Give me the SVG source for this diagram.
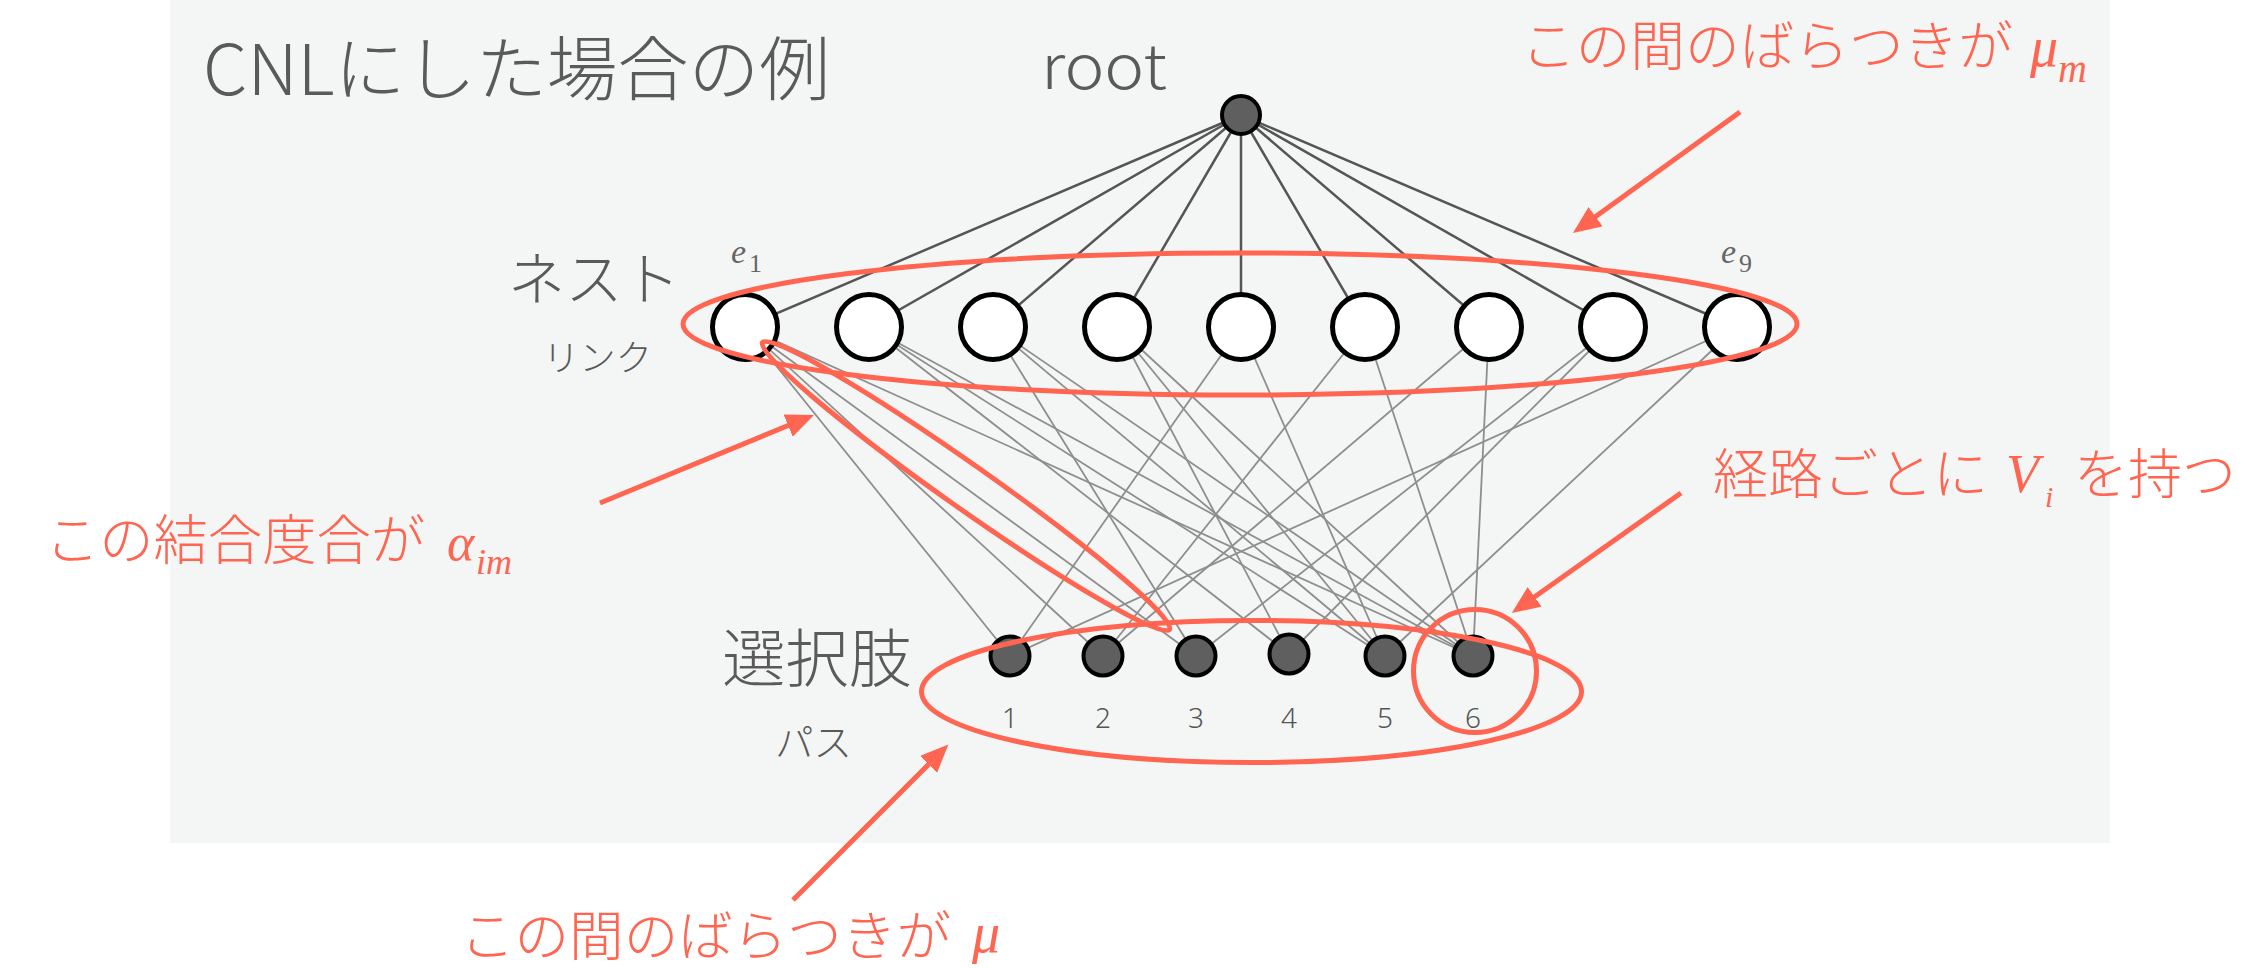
<svg xmlns="http://www.w3.org/2000/svg" width="2249" height="968" viewBox="0 0 2249 968">
<defs>
<style>
.bg{fill:#F4F6F5}
.rl{stroke:#555;stroke-width:2.5;fill:none}
.cl{stroke:#8e8e8e;stroke-width:1.8;fill:none}
.nest{fill:#fff;stroke:#000;stroke-width:5}
.dark{fill:#5f5f5f;stroke:#000;stroke-width:4}
.red{fill:none;stroke:#FF6550;stroke-width:5}
.arr{fill:none;stroke:#FF6550;stroke-width:5;marker-end:url(#ah)}
.g{fill:#5a5a5a;font-family:"Noto Sans CJK JP","Noto Sans",sans-serif;font-weight:300}
.r{fill:#FF6550;font-family:"Noto Sans CJK JP","Noto Sans",sans-serif;font-weight:300}
.mi{font-family:"Liberation Serif","DejaVu Serif",serif;font-style:italic;font-weight:normal}
.rm{fill:#FF6550;font-family:"Liberation Serif","DejaVu Serif",serif;font-style:italic}
.gm{fill:#666;font-family:"Liberation Serif","DejaVu Serif",serif}
.num{fill:#555;font-family:"Noto Sans","Noto Sans CJK JP",sans-serif;font-weight:300;font-size:28px;text-anchor:middle}
</style>
<marker id="ah" markerUnits="userSpaceOnUse" markerWidth="30" markerHeight="26" refX="2" refY="12" orient="auto">
<path d="M0,0 L28,12 L0,24 z" fill="#FF6550"/>
</marker>
</defs>
<rect class="bg" x="170" y="0" width="1940" height="843"/>
<g id="connectors">
<g id="root-links">
<line class="rl" x1="1241" y1="115" x2="745" y2="327"/>
<line class="rl" x1="1241" y1="115" x2="869" y2="327"/>
<line class="rl" x1="1241" y1="115" x2="993" y2="327"/>
<line class="rl" x1="1241" y1="115" x2="1117" y2="327"/>
<line class="rl" x1="1241" y1="115" x2="1241" y2="327"/>
<line class="rl" x1="1241" y1="115" x2="1365" y2="327"/>
<line class="rl" x1="1241" y1="115" x2="1489" y2="327"/>
<line class="rl" x1="1241" y1="115" x2="1613" y2="327"/>
<line class="rl" x1="1241" y1="115" x2="1737" y2="327"/>
</g>
<g id="path-links">
<line class="cl" x1="745" y1="327" x2="1010" y2="656"/>
<line class="cl" x1="745" y1="327" x2="1103" y2="656"/>
<line class="cl" x1="745" y1="327" x2="1196" y2="656"/>
<line class="cl" x1="745" y1="327" x2="1473" y2="656"/>
<line class="cl" x1="869" y1="327" x2="1289" y2="654"/>
<line class="cl" x1="869" y1="327" x2="1385" y2="656"/>
<line class="cl" x1="869" y1="327" x2="1473" y2="656"/>
<line class="cl" x1="993" y1="327" x2="1196" y2="656"/>
<line class="cl" x1="993" y1="327" x2="1385" y2="656"/>
<line class="cl" x1="993" y1="327" x2="1473" y2="656"/>
<line class="cl" x1="1117" y1="327" x2="1289" y2="654"/>
<line class="cl" x1="1117" y1="327" x2="1385" y2="656"/>
<line class="cl" x1="1117" y1="327" x2="1473" y2="656"/>
<line class="cl" x1="1241" y1="327" x2="1010" y2="656"/>
<line class="cl" x1="1241" y1="327" x2="1385" y2="656"/>
<line class="cl" x1="1365" y1="327" x2="1103" y2="656"/>
<line class="cl" x1="1365" y1="327" x2="1473" y2="656"/>
<line class="cl" x1="1489" y1="327" x2="1103" y2="656"/>
<line class="cl" x1="1489" y1="327" x2="1473" y2="656"/>
<line class="cl" x1="1613" y1="327" x2="1196" y2="656"/>
<line class="cl" x1="1613" y1="327" x2="1289" y2="654"/>
<line class="cl" x1="1737" y1="327" x2="1010" y2="656"/>
<line class="cl" x1="1737" y1="327" x2="1385" y2="656"/>
</g>
</g>
<g id="root"><circle class="dark" cx="1241" cy="115" r="19"/></g>
<g id="nest-1"><circle class="nest" cx="745" cy="327" r="32.5"/></g>
<g id="nest-2"><circle class="nest" cx="869" cy="327" r="32.5"/></g>
<g id="nest-3"><circle class="nest" cx="993" cy="327" r="32.5"/></g>
<g id="nest-4"><circle class="nest" cx="1117" cy="327" r="32.5"/></g>
<g id="nest-5"><circle class="nest" cx="1241" cy="327" r="32.5"/></g>
<g id="nest-6"><circle class="nest" cx="1365" cy="327" r="32.5"/></g>
<g id="nest-7"><circle class="nest" cx="1489" cy="327" r="32.5"/></g>
<g id="nest-8"><circle class="nest" cx="1613" cy="327" r="32.5"/></g>
<g id="nest-9"><circle class="nest" cx="1737" cy="327" r="32.5"/></g>
<g id="path-1"><circle class="dark" cx="1010" cy="656" r="19.5"/><text class="num" x="1010" y="728">1</text></g>
<g id="path-2"><circle class="dark" cx="1103" cy="656" r="19.5"/><text class="num" x="1103" y="728">2</text></g>
<g id="path-3"><circle class="dark" cx="1196" cy="656" r="19.5"/><text class="num" x="1196" y="728">3</text></g>
<g id="path-4"><circle class="dark" cx="1289" cy="654" r="19.5"/><text class="num" x="1289" y="728">4</text></g>
<g id="path-5"><circle class="dark" cx="1385" cy="656" r="19.5"/><text class="num" x="1385" y="728">5</text></g>
<g id="path-6"><circle class="dark" cx="1473" cy="656" r="19.5"/><text class="num" x="1473" y="728">6</text></g>
<g id="annotations">
<ellipse class="red" cx="1240" cy="324" rx="557" ry="71"/>
<ellipse class="red" cx="1251.5" cy="691.5" rx="330" ry="71"/>
<circle class="red" cx="1475" cy="671" r="61.5"/>
<ellipse class="red" cx="966" cy="486" rx="249" ry="22" transform="rotate(35.2 966 486)"/>
<line class="arr" x1="1740" y1="112" x2="1594" y2="217.8"/>
<line class="arr" x1="600" y1="503" x2="790" y2="424.8"/>
<line class="arr" x1="1681" y1="493" x2="1533" y2="598"/>
<line class="arr" x1="793" y1="900" x2="930" y2="763"/>
</g>
<g id="labels">
<text class="g" x="203" y="95" font-size="70" textLength="627" lengthAdjust="spacingAndGlyphs">CNLにした場合の例</text>
<text class="g" x="1041" y="89" font-size="62" textLength="126" lengthAdjust="spacingAndGlyphs">root</text>
<text class="g" x="508" y="300" font-size="58" textLength="172" lengthAdjust="spacingAndGlyphs">ネスト</text>
<text class="g" x="543" y="371" font-size="36" textLength="109" lengthAdjust="spacingAndGlyphs">リンク</text>
<text class="g" x="722" y="681" font-size="63" textLength="190" lengthAdjust="spacingAndGlyphs">選択肢</text>
<text class="g" x="775" y="756" font-size="38" textLength="77" lengthAdjust="spacingAndGlyphs">パス</text>
<text class="gm" x="731" y="263" font-size="34" font-style="italic">e</text>
<text class="gm" x="749" y="272" font-size="26">1</text>
<text class="gm" x="1721" y="263" font-size="34" font-style="italic">e</text>
<text class="gm" x="1739" y="272" font-size="26">9</text>
<text class="r" x="1521" y="66" font-size="54" textLength="492" lengthAdjust="spacingAndGlyphs">この間のばらつきが</text>
<text class="rm" x="2030" y="66" font-size="56">μ</text>
<text class="rm" x="2058" y="82" font-size="40">m</text>
<text class="r" x="1713" y="494" font-size="54" textLength="275" lengthAdjust="spacingAndGlyphs">経路ごとに</text>
<text class="rm" x="2006" y="492" font-size="54">V</text>
<text class="rm" x="2045" y="507" font-size="30">i</text>
<text class="r" x="2074" y="494" font-size="54">を持つ</text>
<text class="r" x="45" y="560" font-size="54" textLength="380" lengthAdjust="spacingAndGlyphs">この結合度合が</text>
<text class="rm" x="447" y="560" font-size="52">α</text>
<text class="rm" x="476" y="574" font-size="36">im</text>
<text class="r" x="460" y="956" font-size="54" textLength="491" lengthAdjust="spacingAndGlyphs">この間のばらつきが</text>
<text class="rm" x="972" y="952" font-size="56">μ</text>
</g>
</svg>
